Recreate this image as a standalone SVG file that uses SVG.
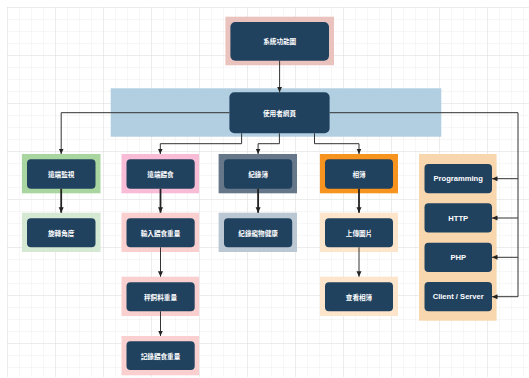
<svg xmlns="http://www.w3.org/2000/svg" width="529" height="378" viewBox="0 0 529 378">
<defs>
<pattern id="minor" x="7" y="7" width="12" height="12" patternUnits="userSpaceOnUse">
<path d="M12 0 H0 V12" fill="none" stroke="#ececec" stroke-width="0.8"/>
</pattern>
<pattern id="major" x="7" y="7" width="48" height="48" patternUnits="userSpaceOnUse">
<path d="M48 0 H0 V48" fill="none" stroke="#dcdcdc" stroke-width="0.8"/>
</pattern>
<marker id="arr" markerUnits="userSpaceOnUse" markerWidth="6" markerHeight="6" refX="5.5" refY="3" orient="auto">
<path d="M0,0.5 L5.5,3 L0,5.5 z" fill="#222"/>
</marker>
</defs>
<style>
.n{fill:#21425f;}
.t{fill:#ffffff;font-family:"Noto Sans CJK TC","Noto Sans",sans-serif;font-size:6.6px;font-weight:bold;text-anchor:middle;dominant-baseline:central;}
.e{fill:#ffffff;font-family:"Liberation Sans",Arial,sans-serif;font-size:7.6px;font-weight:bold;text-anchor:middle;dominant-baseline:central;}
.c{fill:none;stroke:#333;stroke-width:1;}
.ck{fill:none;stroke:#222;stroke-width:1.8;}
</style>
<rect x="0" y="0" width="529" height="378" fill="#ffffff"/>
<rect x="7" y="7" width="522" height="370" fill="url(#minor)"/>
<rect x="7" y="7" width="522" height="370" fill="url(#major)"/>

<g id="node-system">
<rect x="225.4" y="16.7" width="108.6" height="48.6" fill="#ebc3be"/>
<rect class="n" x="230.4" y="22" width="98.6" height="38.7" rx="5"/>
<text class="t" x="279.7" y="41.3">系統功能圖</text>
</g>

<g id="node-user">
<rect x="110.7" y="88.3" width="330.6" height="48.4" fill="#b1cfe0"/>
<rect class="n" x="229.4" y="92.3" width="100.2" height="41" rx="5"/>
<text class="t" x="279.5" y="112.8">使用者網頁</text>
</g>

<g id="node-monitor">
<rect x="21.9" y="154" width="78.6" height="39.3" fill="#a9d5a0"/>
<rect class="n" x="27" y="159.3" width="68.5" height="29.4" rx="4"/>
<text class="t" x="61.2" y="174">遠端監視</text>
</g>
<g id="node-rotate">
<rect x="21.9" y="212.7" width="78.6" height="39.3" fill="#d5e8d4"/>
<rect class="n" x="27" y="218.3" width="68.5" height="29" rx="4"/>
<text class="t" x="61.2" y="232.8">旋轉角度</text>
</g>

<g id="node-feed">
<rect x="121.5" y="154" width="77.5" height="39.3" fill="#f8bcd6"/>
<rect class="n" x="126.5" y="159.3" width="68.2" height="29.4" rx="4"/>
<text class="t" x="160.5" y="174">遠端餵食</text>
</g>
<g id="node-input">
<rect x="121.5" y="212.7" width="77.5" height="39.3" fill="#f9d0cf"/>
<rect class="n" x="126.5" y="218.3" width="68.2" height="29" rx="4"/>
<text class="t" x="160.5" y="232.8">輸入餵食重量</text>
</g>
<g id="node-weigh">
<rect x="121.5" y="276.7" width="77.5" height="39.3" fill="#f9d0cf"/>
<rect class="n" x="126.5" y="282.3" width="68.2" height="29" rx="4"/>
<text class="t" x="160.5" y="296.8">秤飼料重量</text>
</g>
<g id="node-record-feed">
<rect x="121.5" y="336" width="77.5" height="39.3" fill="#f9d0cf"/>
<rect class="n" x="126.5" y="341.3" width="68.2" height="28.7" rx="4"/>
<text class="t" x="160.5" y="355.7">記錄餵食重量</text>
</g>

<g id="node-log">
<rect x="218.6" y="154" width="78.4" height="39.3" fill="#667789"/>
<rect class="n" x="224" y="159.3" width="68.2" height="29.4" rx="4"/>
<text class="t" x="258.1" y="174">紀錄簿</text>
</g>
<g id="node-health">
<rect x="218.6" y="212.7" width="78.4" height="39.3" fill="#bbc8d4"/>
<rect class="n" x="224" y="218.3" width="68.2" height="29" rx="4"/>
<text class="t" x="258.1" y="232.8">紀錄寵物健康</text>
</g>

<g id="node-album">
<rect x="319.9" y="154" width="78.1" height="39.3" fill="#f7931f"/>
<rect class="n" x="325" y="159.3" width="68" height="29.4" rx="4"/>
<text class="t" x="359" y="174">相簿</text>
</g>
<g id="node-upload">
<rect x="319.9" y="212.7" width="78.1" height="39.3" fill="#fde5cb"/>
<rect class="n" x="325" y="218.3" width="68" height="29" rx="4"/>
<text class="t" x="359" y="232.8">上傳圖片</text>
</g>
<g id="node-view">
<rect x="319.9" y="276.7" width="78.1" height="39.3" fill="#fde5cb"/>
<rect class="n" x="325" y="282.3" width="68" height="29" rx="4"/>
<text class="t" x="359" y="296.8">查看相簿</text>
</g>

<g id="node-tech">
<rect x="419" y="154" width="77.6" height="166.7" fill="#f9d7ae"/>
</g>
<g id="node-programming">
<rect class="n" x="424.5" y="164" width="67.5" height="29.3" rx="4"/>
<text class="e" x="458.2" y="178.7">Programming</text>
</g>
<g id="node-http">
<rect class="n" x="424.5" y="203.3" width="67.5" height="29.3" rx="4"/>
<text class="e" x="458.2" y="218">HTTP</text>
</g>
<g id="node-php">
<rect class="n" x="424.5" y="242.7" width="67.5" height="29.3" rx="4"/>
<text class="e" x="458.2" y="257.3">PHP</text>
</g>
<g id="node-cs">
<rect class="n" x="424.5" y="282" width="67.5" height="29.3" rx="4"/>
<text class="e" x="458.2" y="296.7">Client / Server</text>
</g>

<g id="connectors">
<path class="c" d="M279.6 60.7 V92.3" marker-end="url(#arr)"/>
<path class="c" d="M229.4 112.7 H61.2 V154" marker-end="url(#arr)"/>
<path class="c" d="M241.6 133.3 V143.7 H160.3 V154" marker-end="url(#arr)"/>
<path class="c" d="M279.4 133.3 V143.7 H258.1 V154" marker-end="url(#arr)"/>
<path class="c" d="M314.5 133.3 V143.7 H359 V154" marker-end="url(#arr)"/>
<path class="c" d="M329.6 112.7 H518 V296.7 H492" marker-end="url(#arr)"/>
<path class="c" d="M518 178.7 H492" marker-end="url(#arr)"/>
<path class="c" d="M518 218 H492" marker-end="url(#arr)"/>
<path class="c" d="M518 257.3 H492" marker-end="url(#arr)"/>
<path class="ck" d="M61.2 188.7 V212.7" marker-end="url(#arr)"/>
<path class="ck" d="M160.5 188.7 V212.7" marker-end="url(#arr)"/>
<path class="ck" d="M258.1 188.7 V212.7" marker-end="url(#arr)"/>
<path class="ck" d="M359 188.7 V212.7" marker-end="url(#arr)"/>
<path class="c" d="M160.5 247.3 V276.7" marker-end="url(#arr)"/>
<path class="c" d="M160.5 311.3 V336" marker-end="url(#arr)"/>
<path class="c" d="M359 247.3 V276.7" marker-end="url(#arr)"/>
</g>
</svg>
